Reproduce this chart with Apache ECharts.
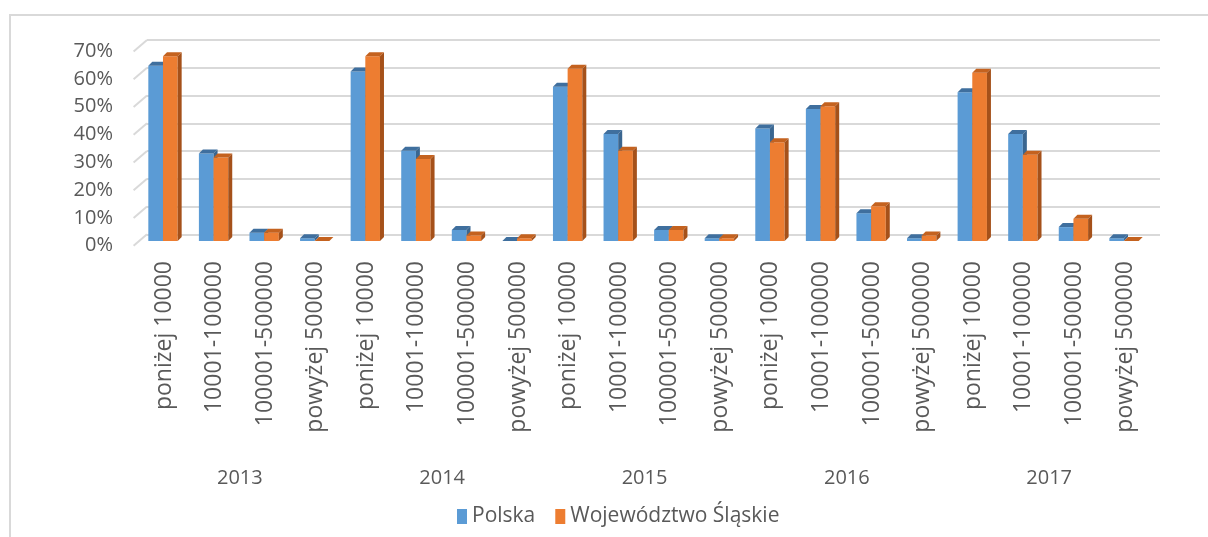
<!DOCTYPE html>
<html>
<head>
<meta charset="utf-8">
<script src="https://cdn.jsdelivr.net/npm/echarts@6/dist/echarts.min.js"></script>
<style>
    html, body {margin: 0; padding: 0; background: #fff;}
    #chart {width: 1208px; height: 537px;}
</style>
</head>
<body>
<div id="chart"></div>
<script>
    var years = ['2013', '2014', '2015', '2016', '2017'];
    var size_classes = ['poniżej 10000', '10001-100000', '100001-500000', 'powyżej 500000'];
    var y_ticks = [0, 10, 20, 30, 40, 50, 60, 70];
    // values in %
    var polska = [63, 31.5, 3, 1, 61, 32.5, 4, 0, 55.5, 38.5, 4, 1, 40.5, 47.5, 10, 1, 53.5, 38.5, 5, 1];
    var slaskie = [66.5, 30, 3, 0, 66.5, 29.5, 2, 1, 62, 32.5, 4, 1, 35.5, 48.5, 12.5, 2, 60.5, 31, 8, 0];

    var categories = [];
    years.forEach(function(y){
        size_classes.forEach(function(s){
            categories.push(s);
        });
    });

    var font = 'Open Sans';
    var text_color = '#595959';
    var depth = 4;

    function bar3d(front, top, side, shift){
        return function(params, api){
            var idx = api.value(0);
            var base = api.coord([idx, 0]);
            var top_pt = api.coord([idx, api.value(1)]);
            var band = api.size([1, 0])[0];
            var w = band * 0.29;
            var x0 = base[0] + shift * w - 1;
            var ty = top_pt[1], by = base[1];
            return {
                type: 'group',
                children: [
                    {type: 'rect', shape: {x: x0, y: ty, width: w, height: by - ty}, style: {fill: front}},
                    {type: 'polygon', shape: {points: [[x0, ty], [x0 + w, ty], [x0 + w + depth, ty - depth], [x0 + depth, ty - depth]]}, style: {fill: top}},
                    {type: 'polygon', shape: {points: [[x0 + w, ty], [x0 + w + depth, ty - depth], [x0 + w + depth, by - depth], [x0 + w, by]]}, style: {fill: side}}
                ]
            };
        };
    }

    function pairs(values){
        return values.map(function(v, i){ return [i, v]; });
    }

    var option = {
        animation: false,
        graphic: [{
            type: 'rect', shape: {x: 10, y: 15, width: 1300, height: 700},
            style: {fill: null, stroke: '#D9D9D9', lineWidth: 2}
        }],
        legend: {
            left: 452, top: 501,
            itemWidth: 10, itemHeight: 15, itemGap: 20,
            icon: 'rect',
            textStyle: {fontFamily: font, fontSize: 21, color: text_color},
            data: [
                {name: 'Polska', itemStyle: {color: '#5B9BD5'}},
                {name: 'Województwo Śląskie', itemStyle: {color: '#ED7D31'}}
            ]
        },
        grid: [
            // back wall with the gridlines
            {left: 147, right: 48, top: 40, bottom: 302.7},
            // front wall, carries the value labels
            {left: 133, right: 62, top: 51, bottom: 291.3},
            // bars
            {left: 138.7, right: 57.7, top: 46.4, bottom: 296}
        ],
        xAxis: [
            {gridIndex: 0, type: 'value', min: 0, max: 1, show: false},
            {gridIndex: 1, type: 'value', min: 0, max: 1, show: false},
            {
                gridIndex: 2, type: 'category', data: categories,
                axisLine: {show: false}, axisTick: {show: false},
                axisLabel: {rotate: 90, margin: 20, interval: 0, fontFamily: font, fontSize: 23, color: text_color}
            },
            {
                gridIndex: 2, type: 'category', data: years, position: 'bottom', offset: 220,
                axisLine: {show: false}, axisTick: {show: false},
                axisLabel: {margin: 7, fontFamily: font, fontSize: 20, color: text_color}
            }
        ],
        yAxis: [
            {
                gridIndex: 0, type: 'value', min: 0, max: 70, interval: 10,
                axisLine: {show: false}, axisTick: {show: false}, axisLabel: {show: false},
                splitLine: {lineStyle: {color: '#D9D9D9', width: 2}}
            },
            {
                gridIndex: 1, type: 'value', min: 0, max: 70, interval: 10,
                axisLine: {show: false}, axisTick: {show: false}, splitLine: {show: false},
                axisLabel: {margin: 20, formatter: '{value}%', fontFamily: font, fontSize: 20, color: text_color}
            },
            {gridIndex: 2, type: 'value', min: 0, max: 70, show: false}
        ],
        series: [
            {
                // floor edges on the left of the gridlines
                type: 'custom', xAxisIndex: 0, yAxisIndex: 0, silent: true,
                data: y_ticks.map(function(t){ return [0, t]; }),
                renderItem: function(params, api){
                    var p = api.coord([0, api.value(1)]);
                    return {
                        type: 'line',
                        shape: {x1: p[0] - 13.4, y1: p[1] + 11.4, x2: p[0], y2: p[1]},
                        style: {stroke: '#D9D9D9', lineWidth: 2}
                    };
                }
            },
            {
                name: 'Polska', type: 'custom', xAxisIndex: 2, yAxisIndex: 2,
                itemStyle: {color: '#5B9BD5'},
                data: pairs(polska),
                renderItem: bar3d('#5B9BD5', '#3F6F9E', '#3A6690', -1)
            },
            {
                name: 'Województwo Śląskie', type: 'custom', xAxisIndex: 2, yAxisIndex: 2,
                itemStyle: {color: '#ED7D31'},
                data: pairs(slaskie),
                renderItem: bar3d('#ED7D31', '#C4621F', '#A5511A', 0)
            }
        ]
    };

    var myChart = echarts.init(document.getElementById('chart'));
    myChart.setOption(option);
</script>
</body>
</html>
